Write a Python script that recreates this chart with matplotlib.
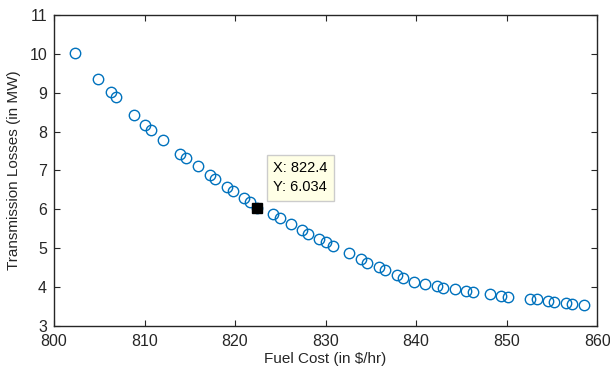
import matplotlib.pyplot as plt

plt.rcParams['font.family'] = ['Liberation Sans', 'DejaVu Sans']

fuel_cost = [802.3, 804.9, 806.3, 806.9, 808.8, 810.0, 810.7, 812.0, 813.9, 814.6,
             815.9, 817.2, 817.8, 819.1, 819.8, 821.0, 821.7, 822.4, 824.2, 825.0,
             826.2, 827.4, 828.1, 829.3, 830.1, 830.8, 832.6, 833.9, 834.6, 835.9,
             836.6, 837.9, 838.6, 839.8, 841.0, 842.3, 843.0, 844.3, 845.5, 846.3,
             848.2, 849.4, 850.1, 852.6, 853.4, 854.6, 855.2, 856.5, 857.2, 858.5]
losses = [10.03, 9.35, 9.02, 8.89, 8.43, 8.17, 8.04, 7.79, 7.43, 7.32,
          7.12, 6.89, 6.78, 6.58, 6.48, 6.30, 6.19, 6.034, 5.88, 5.78,
          5.63, 5.47, 5.38, 5.24, 5.16, 5.06, 4.88, 4.72, 4.63, 4.51,
          4.44, 4.31, 4.23, 4.14, 4.08, 4.03, 3.99, 3.96, 3.90, 3.88,
          3.83, 3.78, 3.76, 3.70, 3.70, 3.65, 3.62, 3.60, 3.57, 3.55]
tip_x, tip_y = 822.4, 6.034

fig = plt.figure(figsize=(6.1, 3.71), dpi=100)
ax = fig.add_axes([0.0885, 0.121, 0.8905, 0.839])

ax.plot(fuel_cost, losses, 'o', mfc='none', mec='#0072BD', ms=7.5, mew=1.0)
ax.plot([tip_x], [tip_y], 's', color='black', ms=7)
ax.annotate(f'X: {tip_x}\nY: {tip_y}', (tip_x, tip_y), xytext=(12, 10),
            textcoords='offset points', ha='left', va='bottom', fontsize=10.5,
            linespacing=1.45,
            bbox=dict(boxstyle='square,pad=0.45', fc='#FFFFE6', ec='#CCCCCC', lw=1))

ax.set_xlim(800, 860)
ax.set_ylim(3, 11)
ax.set_xticks(range(800, 861, 10))
ax.set_yticks(range(3, 12))
ax.tick_params(direction='in', top=True, right=True, labelsize=11.5,
               color='#262626', labelcolor='#262626', length=4)
ax.tick_params(axis='y', pad=5)
ax.tick_params(axis='x', pad=6)
for s in ax.spines.values():
    s.set_color('#262626')
    s.set_linewidth(1.0)
ax.set_xlabel('Fuel Cost (in $/hr)', fontsize=11, color='#262626', labelpad=2)
ax.set_ylabel('Transmission Losses (in MW)', fontsize=11, color='#262626', labelpad=6)

fig.savefig('out.png', dpi=100)
